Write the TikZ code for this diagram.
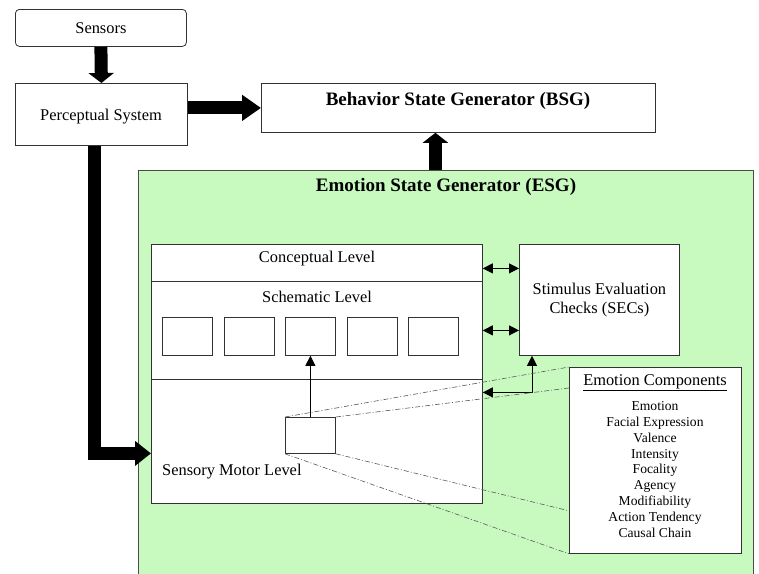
\documentclass[tikz,border=0pt]{standalone}
\usepackage{fontspec}
\setmainfont{Liberation Serif}
\usetikzlibrary{arrows.meta}
\definecolor{esggreen}{RGB}{200,250,192}
\definecolor{edge}{RGB}{50,50,50}
\tikzset{
  box/.style={draw=edge, line width=0.8pt, fill=white, inner sep=0pt, anchor=north west},
  cell/.style={box, minimum width=50pt, minimum height=38pt},
  bigarrow/.style={line width=13pt, draw=black},
  thin arrow/.style={draw=black, line width=0.8pt},
  tipA/.style={-{Triangle[length=10pt,width=25pt]}},
  tipB/.style={-{Triangle[length=19pt,width=25pt]}},
  tipC/.style={-{Triangle[length=16pt,width=24pt]}},
  smalltip/.style={{Triangle[length=10pt,width=10pt]}-{Triangle[length=10pt,width=10pt]}},
  oneTip/.style={-{Triangle[length=10pt,width=10pt]}},
  zoomline/.style={draw=black!65, line width=0.6pt, dash pattern=on 5pt off 2pt on 1pt off 2pt},
  txt/.style={font=\fontsize{16.4}{19}\selectfont, inner sep=0pt},
  btxt/.style={font=\fontsize{19}{22}\selectfont\bfseries, inner sep=0pt},
  stxt/.style={font=\fontsize{13.6}{15.85}\selectfont, inner sep=0pt, align=center},
}
\begin{document}
\begin{tikzpicture}[x=1pt,y=-1pt]
\useasboundingbox (0,0) rectangle (759,573);

% top row
\node[box, rounded corners=4pt, minimum width=171pt, minimum height=37pt] (sensors) at (15,9) {};
\node[txt] (sensorsT) at (sensors.center) {Sensors};
\node[box, minimum width=172pt, minimum height=62pt] (percept) at (15,83) {};
\node[txt] (perceptT) at (101,117) {Perceptual System};
\node[box, minimum width=394pt, minimum height=49pt] (bsg) at (261,83) {};
\node[btxt] (bsgT) at (458,101) {Behavior State Generator (BSG)};

% emotion state generator
\node[box, draw=black!70, fill=esggreen, minimum width=615pt, minimum height=420pt] (esg) at (138,170) {};
\node[btxt] (esgT) at (446,187) {Emotion State Generator (ESG)};

% levels
\node[box, minimum width=331pt, minimum height=37pt] (concept) at (151,244) {};
\node[box, minimum width=331pt, minimum height=98pt] (schem) at (151,281) {};
\node[box, minimum width=331pt, minimum height=124pt] (sensory) at (151,379) {};
\node[txt] (conceptT) at (317,259) {Conceptual Level};
\node[txt] (schemT) at (317,297) {Schematic Level};
\node[txt, anchor=west] (sensoryT) at (162,472) {Sensory Motor Level};

\node[cell] (c1) at (162,317) {};
\node[cell] (c2) at (223.5,317) {};
\node[cell] (c3) at (285,317) {};
\node[cell] (c4) at (346.5,317) {};
\node[cell] (c5) at (408,317) {};
\node[box, minimum width=50pt, minimum height=36pt] (mini) at (285,417) {};

% stimulus evaluation checks
\node[box, minimum width=160pt, minimum height=111pt] (sec) at (519,244) {};
\node[txt, align=center] (secT) at (sec.center) {Stimulus Evaluation\\Checks (SECs)};

% emotion components
\node[box, minimum width=172pt, minimum height=186pt] (ec) at (569,367) {};
\node[txt] (ecT) at (655,383) {\underline{Emotion Components}};
\node[stxt] (ecL) at (655,469.5) {Emotion\\Facial Expression\\Valence\\Intensity\\Focality\\Agency\\Modifiability\\Action Tendency\\Causal Chain};

% thick flows
\draw[bigarrow, tipA] (sensors.south) -- (percept.north);
\draw[bigarrow, tipB] (percept.east |- bsg.west) -- (bsg.west);
\draw[bigarrow, tipA] ([xshift=-23pt]bsg.south |- esg.north) -- ([xshift=-23pt]bsg.south);
\draw[bigarrow, tipC] ([xshift=-6.5pt]percept.south) |- ([yshift=-12pt]sensory.west);

% thin connectors
\draw[thin arrow, smalltip] ([yshift=-5.5pt]concept.east) -- ([yshift=-5.5pt]concept.east -| sec.west);
\draw[thin arrow, smalltip] (schem.east) -- (schem.east -| sec.west);
\draw[thin arrow, smalltip] ([xshift=13pt]sec.south west) |- ([yshift=49pt]sensory.east);
\draw[thin arrow, oneTip] (mini.north) -- (c3.south);

% magnification lines
\draw[zoomline] (mini.north west) -- (ec.north west);
\draw[zoomline] (mini.north east) -- ([yshift=-21pt]ec.north west);
\draw[zoomline] (mini.south east) -- ([yshift=43pt]ec.south west);
\draw[zoomline] (mini.south west) -- (ec.south west);
\end{tikzpicture}
\end{document}
